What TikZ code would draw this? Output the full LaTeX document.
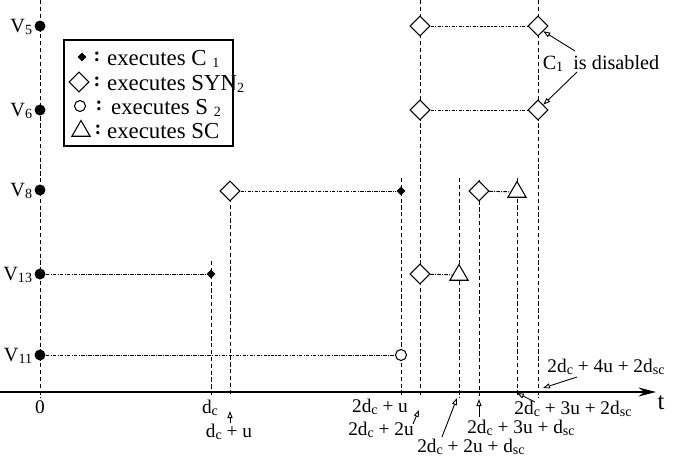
\documentclass[tikz,border=0pt]{standalone}
\usepackage{fontspec}
\setmainfont{Liberation Serif}
\usetikzlibrary{arrows.meta, positioning, shapes.geometric, backgrounds}

\newcommand{\lo}[1]{\raisebox{-.2ex}[0pt][0pt]{\footnotesize #1}}

\begin{document}
\begin{tikzpicture}[
  x=0.02cm, y=-0.02cm,
  font=\fontsize{11.5}{13}\selectfont,
  proc/.style={circle, fill, inner sep=0pt, minimum size=2.2mm},
  synmark/.style={diamond, draw, fill=white, inner sep=0pt, minimum size=4mm, line width=0.6pt},
  cmark/.style={diamond, fill, inner sep=0pt, minimum size=1.8mm},
  smark/.style={circle, draw, fill=white, inner sep=0pt, minimum size=2.2mm, line width=0.6pt},
  scmark/.style={regular polygon, regular polygon sides=3, draw, fill=white, inner sep=0pt, minimum size=4.2mm, line width=0.6pt},
  guide/.style={dash pattern=on 2.4pt off 1.5pt, line width=0.55pt},
  track/.style={dash pattern=on 2pt off 0.7pt on 0.6pt off 0.7pt, line width=0.55pt},
  note/.style={-{Triangle[open, length=1.4mm, width=1mm]}, line width=0.5pt},
  lbl/.style={inner sep=1pt},
  tlbl/.style={inner sep=0pt, font=\fontsize{11}{12}\selectfont},
  keytext/.style={inner sep=1pt, anchor=west, font=\fontsize{13}{15}\selectfont}
]
\useasboundingbox (0,0) rectangle (690,457);

% processes on the left axis
\node[proc] (v5) at (40,26) {};
\node[proc] (v6) at (40,110) {};
\node[proc] (v8) at (40,190) {};
\node[proc] (v13) at (40,274) {};
\node[proc] (v11) at (40,355) {};
\node[lbl, left=0pt of v5] {V\lo{5}};
\node[lbl, left=0pt of v6] {V\lo{6}};
\node[lbl, left=0pt of v8] {V\lo{8}};
\node[lbl, left=0pt of v13] {V\lo{13}};
\node[lbl, left=0pt of v11] {V\lo{11}};

% events
\node[synmark] (syn5a) at (420,26) {};
\node[synmark] (syn5b) at (538,26) {};
\node[synmark] (syn6a) at (420,110) {};
\node[synmark] (syn6b) at (538,110) {};
\node[synmark] (syn8) at (230,191) {};
\node[cmark] (c8) at (401,191) {};
\node[synmark] (syn8b) at (479,191) {};
\node[scmark] (sc8) at (517,192) {};
\node[cmark] (c13) at (211,274) {};
\node[synmark] (syn13) at (420,274) {};
\node[scmark] (sc13) at (459,275) {};
\node[smark] (s11) at (401,355) {};

% time axis
\coordinate (origin) at (0,392);
\coordinate (tend) at (656,392);
\draw[line width=0.7pt, -{Stealth[length=3.5mm, width=1.8mm]}] (origin) -- (tend);
\node[lbl, font=\fontsize{14}{16}\selectfont] (tname) at (661,403) {t};

% tops and feet of the guides
\coordinate (top0) at (40,0);
\coordinate (foot0) at (40,398);
\coordinate (top1) at (211,261);
\coordinate (foot1) at (211,396);
\coordinate (foot2) at (230,396);
\coordinate (top3) at (401,178);
\coordinate (foot3) at (401,396);
\coordinate (top4) at (420,0);
\coordinate (foot4) at (420,396);
\coordinate (top5) at (459,178);
\coordinate (foot5) at (459,398);
\coordinate (top6) at (479,180);
\coordinate (foot6) at (479,396);
\coordinate (top7) at (517,178);
\coordinate (foot7) at (517,396);
\coordinate (top8) at (538,0);
\coordinate (foot8) at (538,398);

\begin{scope}[on background layer]
\draw[guide] (top0) -- (foot0);
\draw[guide] (top1) -- (foot1);
\draw[guide] (syn8.center) -- (foot2);
\draw[guide] (top3) -- (foot3);
\draw[guide] (top4) -- (foot4);
\draw[guide] (top5) -- (foot5);
\draw[guide] (top6) -- (foot6);
\draw[guide] (top7) -- (foot7);
\draw[guide] (top8) -- (foot8);
\draw[track] (syn5a) -- (syn5b);
\draw[track] (syn6a) -- (syn6b);
\draw[track] (syn8) -- (c8);
\draw[track] (syn8b) -- (sc8);
\draw[track] (v13) -- (c13);
\draw[track] (syn13) -- (sc13);
\draw[track] (v11) -- (s11);
\end{scope}

% labels on the time axis
\node[tlbl] (l0) at (40,407) {0};
\node[tlbl] (l1) at (210,407) {d\lo{c}};
\node[tlbl] (l2) at (229,431) {d\lo{c} + u};
\node[tlbl] (l3) at (380,406) {2d\lo{c} + u};
\node[tlbl] (l4) at (381,429) {2d\lo{c} + 2u};
\node[tlbl] (l5) at (471,446) {2d\lo{c} + 2u + d\lo{sc}};
\node[tlbl] (l6) at (521,427) {2d\lo{c} + 3u + d\lo{sc}};
\node[tlbl] (l7) at (573,408) {2d\lo{c} + 3u + 2d\lo{sc}};
\node[tlbl] (l8) at (606,366) {2d\lo{c} + 4u + 2d\lo{sc}};
\coordinate (p2) at (230,411);
\coordinate (p4) at (419,410);
\coordinate (p5) at (457,398);
\coordinate (p6) at (479,399);
\coordinate (p7) at (517,393);
\coordinate (p8) at (543,388);
\draw[note] (230,423) -- (p2);
\draw[note] (413,424) -- (p4);
\draw[note] (442,437) -- (p5);
\draw[note] (479,417) -- (p6);
\draw[note] (535,402) -- (p7);
\draw[note] (577,377) -- (p8);

% disabled note
\node[lbl] (dis) at (601,63) {C\lo{1}~ is disabled};
\draw[note] (575,51) -- (syn5b.south east);
\draw[note] (577,72) -- (syn6b.north east);

% legend
\node[draw, line width=0.6pt, minimum width=3.38cm, minimum height=2.12cm] (legend) at (148.5,93) {};
\node[cmark] (k1) at (82,57) {};
\node[synmark] (k2) at (79,82) {};
\node[smark] (k3) at (80,106) {};
\node[scmark] (k4) at (81,131) {};
\node[lbl] at (97,57) {\bfseries :};
\node[lbl] at (97,82) {\bfseries :};
\node[lbl] at (99,106) {\bfseries :};
\node[lbl] at (98,130) {\bfseries :};
\node[keytext] at (105,58) {executes C \lo{1}};
\node[keytext] at (105,83) {executes SYN\lo{2}};
\node[keytext] at (109,107) {executes S \lo{2}};
\node[keytext] at (105,131) {executes SC};
\end{tikzpicture}
\end{document}
